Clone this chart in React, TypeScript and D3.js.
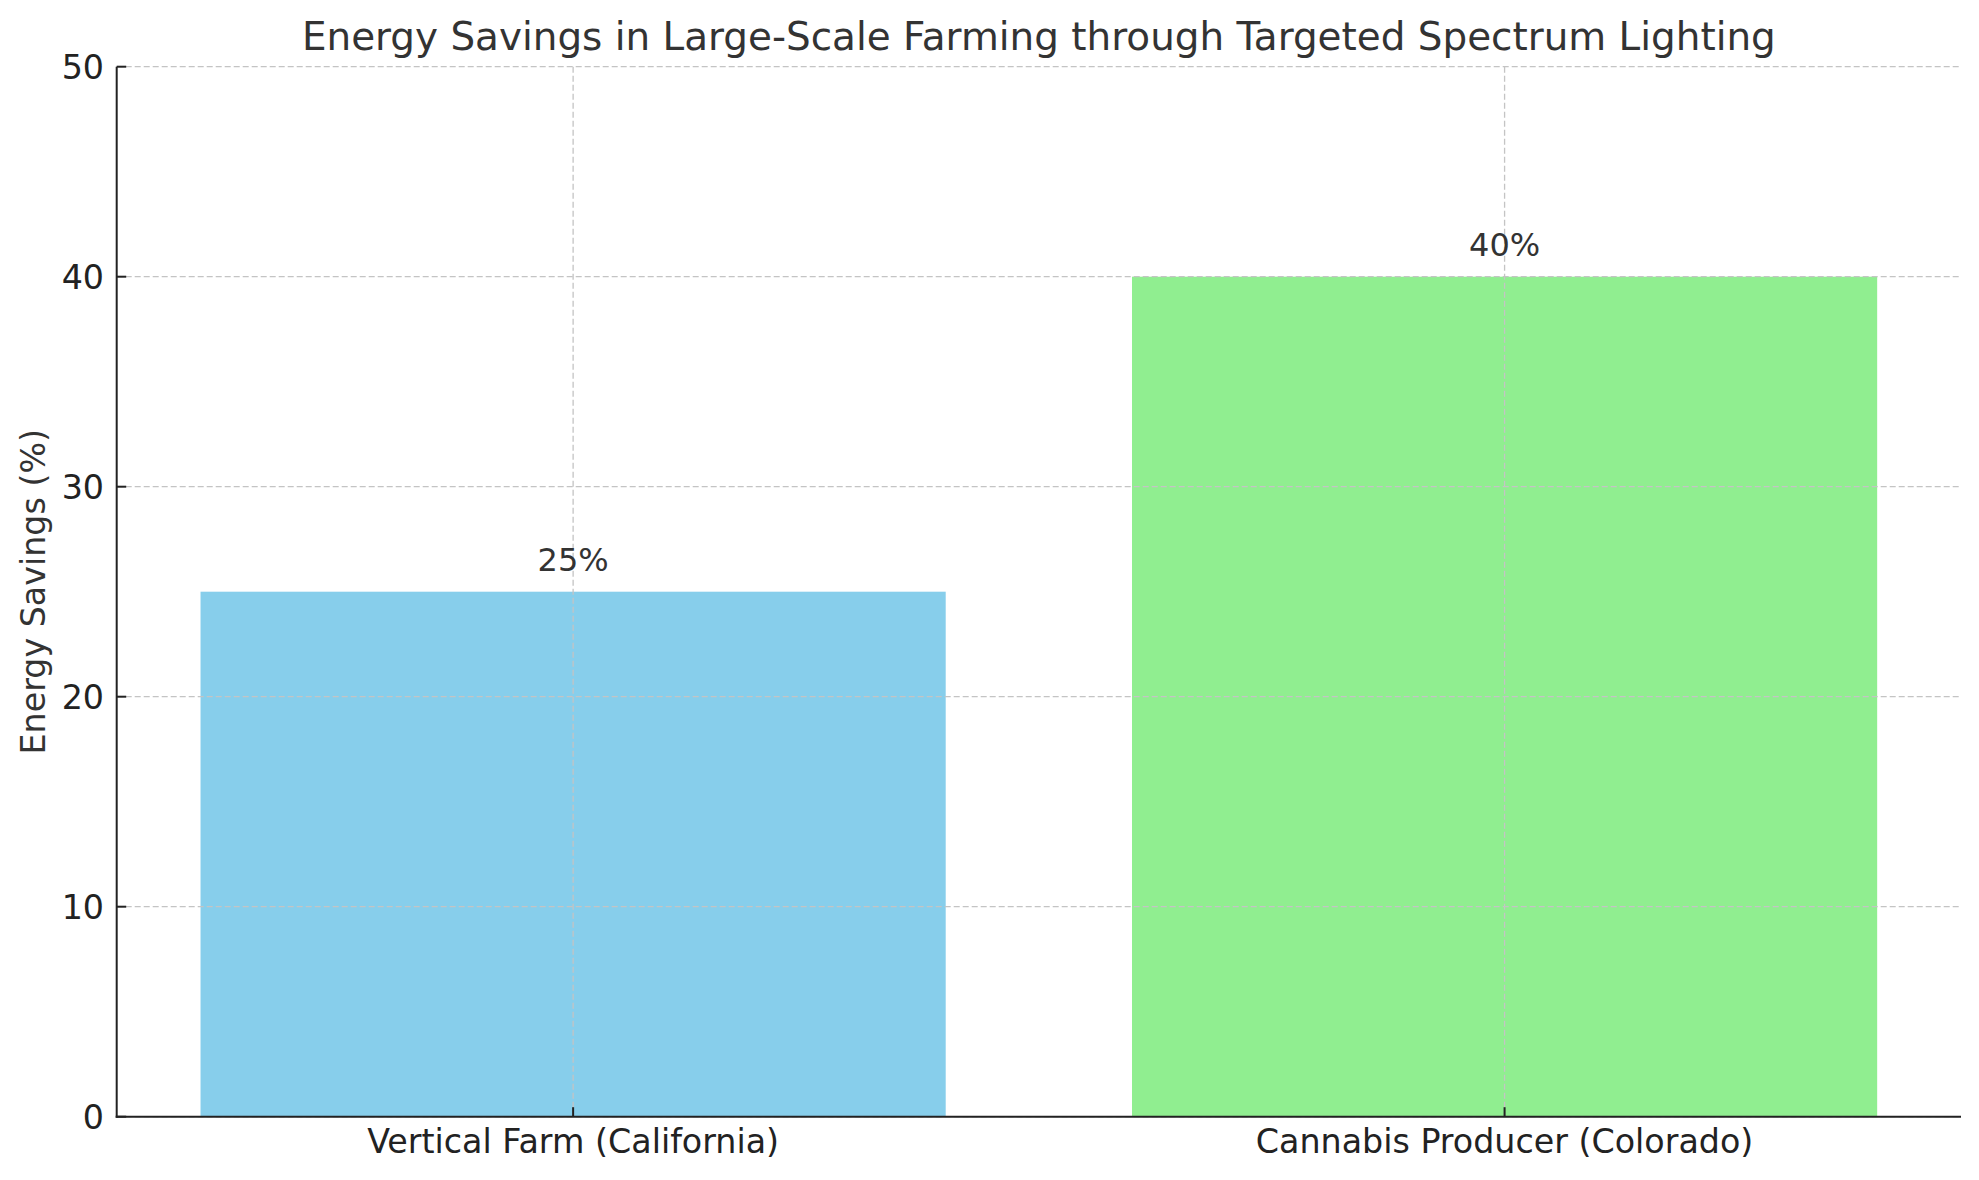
import React from "react";
import * as d3 from "d3";

const categories = ["Vertical Farm (California)", "Cannabis Producer (Colorado)"];
const savings = [25, 40];
const barColors = ["#87CEEB", "#90EE90"];
const yTicks = [0, 10, 20, 30, 40, 50];
const title = "Energy Savings in Large-Scale Farming through Targeted Spectrum Lighting";
const yLabel = "Energy Savings (%)";

const W = 1979, H = 1180;
const left = 116.7, right = 1961, top = 66.7, bottom = 1116.7;

export default function App() {
  const x = d3.scaleLinear().domain([-0.49, 1.49]).range([left, right]);
  const y = d3.scaleLinear().domain([0, 50]).range([bottom, top]);
  const bw = x(0.4) - x(0);
  const font = "'DejaVu Sans', sans-serif";
  return (
    <svg width={W} height={H} style={{ position: "absolute", left: 0, top: 0, background: "#fff" }} fontFamily={font}>
      <rect x={0} y={0} width={W} height={H} fill="#fff" />
      {categories.map((c, i) => (
        <rect key={c} x={x(i) - bw} y={y(savings[i])} width={bw * 2} height={y(0) - y(savings[i])} fill={barColors[i]} />
      ))}
      {yTicks.map((t) => (
        <line key={"gy" + t} x1={left} x2={right} y1={y(t)} y2={y(t)} stroke="#c4c4c4" strokeWidth={1.3} strokeDasharray="6,3" />
      ))}
      {categories.map((c, i) => (
        <line key={"gx" + i} x1={x(i)} x2={x(i)} y1={top} y2={bottom} stroke="#c4c4c4" strokeWidth={1.3} strokeDasharray="6,3" />
      ))}
      {yTicks.map((t) => (
        <g key={"ty" + t}>
          <line x1={left} x2={left + 9.5} y1={y(t)} y2={y(t)} stroke="#222" strokeWidth={2} />
          <text x={104} y={y(t)} dy="0.36em" textAnchor="end" fontSize={33.3} fill="#222">{t}</text>
        </g>
      ))}
      {categories.map((c, i) => (
        <g key={"tx" + i}>
          <line x1={x(i)} x2={x(i)} y1={bottom} y2={bottom - 9.5} stroke="#222" strokeWidth={2} />
          <text x={x(i)} y={1153} textAnchor="middle" fontSize={33.3} fill="#222">{c}</text>
        </g>
      ))}
      {categories.map((c, i) => (
        <text key={"bl" + i} x={x(i)} y={y(savings[i]) - 21} textAnchor="middle" fontSize={32} fill="#333">{savings[i]}%</text>
      ))}
      <line x1={left} x2={left} y1={top} y2={bottom + 1} stroke="#222" strokeWidth={2} />
      <line x1={left - 1} x2={right} y1={bottom} y2={bottom} stroke="#222" strokeWidth={2} />
      <text x={(left + right) / 2} y={50} textAnchor="middle" fontSize={38.9} fill="#333">{title}</text>
      <text transform={`translate(45,${(top + bottom) / 2}) rotate(-90)`} textAnchor="middle" fontSize={33.3} fill="#333">{yLabel}</text>
    </svg>
  );
}
